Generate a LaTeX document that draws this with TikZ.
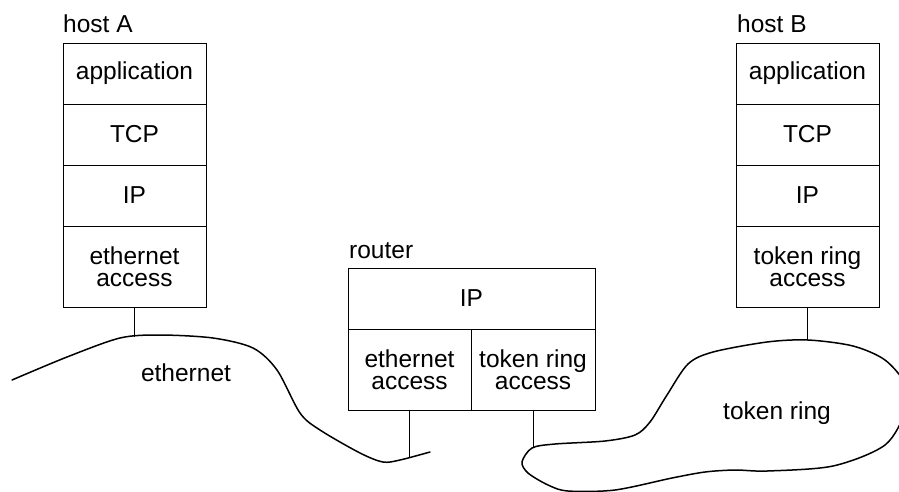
\documentclass[tikz,border=0pt]{standalone}
\usepackage{fontspec}
\setmainfont{Liberation Sans}
\usetikzlibrary{positioning}

\tikzset{
  layer/.style={draw,line width=0.8pt,inner sep=0pt,outer sep=0pt,align=center,
    minimum width=143pt,minimum height=61pt,font=\fontsize{24.5}{22}\selectfont},
  access/.style={layer,minimum height=81pt},
  tag/.style={inner sep=0pt,font=\fontsize{24.5}{22}\selectfont},
  wire/.style={line width=0.8pt},
  medium/.style={line width=1.5pt,line cap=round}
}

\begin{document}
\begin{tikzpicture}[x=1pt,y=-1pt]
  \useasboundingbox (0,0) rectangle (899,491);
  \clip (0,0) rectangle (899,491);
  % host A
  \node[layer,anchor=north west] (appA) at (63,43) {application};
  \node[layer,below=0pt of appA] (tcpA) {TCP};
  \node[layer,below=0pt of tcpA] (ipA) {IP};
  \node[access,below=0pt of ipA] (accA) {ethernet\\access};
  \node[tag,anchor=base west] (hostA) at (63,32) {host A};
  % host B
  \node[layer,anchor=north west] (appB) at (736,43) {application};
  \node[layer,below=0pt of appB] (tcpB) {TCP};
  \node[layer,below=0pt of tcpB] (ipB) {IP};
  \node[access,below=0pt of ipB] (accB) {token ring\\access};
  \node[tag,anchor=base west] (hostB) at (737,32) {host B};
  % router
  \node[layer,anchor=north west,minimum width=247pt] (ipR) at (348,268) {IP};
  \node[access,anchor=north west,minimum width=123pt] (ethR) at (ipR.south west) {ethernet\\access};
  \node[access,anchor=north west,minimum width=124pt] (tokR) at (ethR.north east) {token ring\\access};
  \node[tag,anchor=base west] (router) at (349,258) {router};
  % networks
  \draw[medium] plot[smooth] coordinates {(12,380) (67,357) (120,338) (160,335) (213,338)
    (253,348) (277,370) (300,413) (320,430) (360,453) (383,462) (400,460) (430,452)};
  \draw[medium] plot[smooth cycle] coordinates {(522,462) (532,448) (555,444) (605,441)
    (635,435) (650,422) (667,395) (688,364) (713,352) (767,342) (808,340) (853,346)
    (885,360) (906,385) (906,410) (885,445) (833,466) (767,471) (735,470) (705,472)
    (672,478) (615,490) (568,491) (548,485) (528,473)};
  \node[tag] (ethernet) at (186,373) {ethernet};
  \node[tag] (tokenring) at (777,413) {token ring};
  % attachments
  \coordinate (tapA) at (134.5,337);
  \coordinate (tapR1) at (409.5,458);
  \coordinate (tapR2) at (533,448);
  \coordinate (tapB) at (807.5,340);
  \draw[wire] (accA.south) -- (tapA);
  \draw[wire] (ethR.south) -- (tapR1);
  \draw[wire] (tokR.south) -- (tapR2);
  \draw[wire] (accB.south) -- (tapB);
\end{tikzpicture}
\end{document}
